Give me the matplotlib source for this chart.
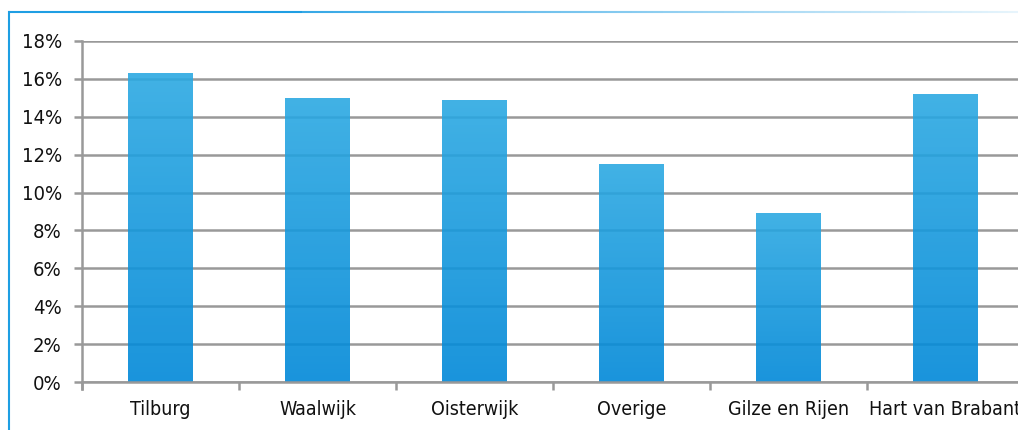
import matplotlib
matplotlib.use("Agg")
import matplotlib.pyplot as plt
import numpy as np
from matplotlib.colors import LinearSegmentedColormap
from matplotlib.collections import LineCollection

# share per municipality (percent)
regions = ["Tilburg", "Waalwijk", "Oisterwijk", "Overige", "Gilze en Rijen", "Hart van Brabant"]
shares = [16.3, 15.0, 14.9, 11.5, 8.9, 15.2]
yticks = [0, 2, 4, 6, 8, 10, 12, 14, 16, 18]

plt.rcParams['font.family'] = ['DejaVu Sans']
plt.rcParams['font.stretch'] = 'condensed'

W, H = 1018, 430
fig = plt.figure(figsize=(W / 100, H / 100), dpi=100)

# axes box in pixels: left 82, right 1024 (runs off the edge), top 41, bottom 382
left, right, top, bottom = 82, 1024, 41, 382
ax = fig.add_axes([left / W, 1 - bottom / H, (right - left) / W, (bottom - top) / H])

x = np.arange(len(regions))

grid_color = '#999999'
for t in yticks:
    ax.axhline(t, color=grid_color, lw=1.8, zorder=1)

# vertical gradient inside each bar
cmap = LinearSegmentedColormap.from_list('bar', ['#0088d8', '#2ca9e2'])
grad = np.linspace(0, 1, 256).reshape(-1, 1)
bars = ax.bar(x, shares, width=0.41, color='none', zorder=2)
for rect in bars:
    x0 = rect.get_x()
    h = rect.get_height()
    im = ax.imshow(grad, cmap=cmap, origin='lower', aspect='auto', alpha=0.9,
                   extent=(x0, x0 + rect.get_width(), 0, h), zorder=2)
    im.set_clip_path(rect)
ax.set_xlim(-0.5, len(regions) - 0.5)
ax.set_ylim(0, 18)

for s in ['top', 'right', 'bottom']:
    ax.spines[s].set_visible(False)
ax.spines['left'].set_color(grid_color)
ax.spines['left'].set_linewidth(1.8)
ax.spines['left'].set_bounds(-0.35, 18)

ax.set_yticks(yticks, [f"{t}%" for t in yticks])
ax.tick_params(axis='y', length=6, width=1.8, color=grid_color, pad=8.5,
               labelsize=14.5, labelcolor='#111111')

# category labels centred, tick marks on category boundaries
ax.set_xticks(x, regions)
ax.tick_params(axis='x', length=0, pad=13, labelsize=14, labelcolor='#111111')
ax.set_xticks(np.arange(len(regions) + 1) - 0.5, minor=True)
ax.tick_params(axis='x', which='minor', length=6, width=1.8, color=grid_color)
ax.axhline(0, color=grid_color, lw=1.8, zorder=3, clip_on=False)

# blue frame: left edge solid, top edge fading out to the right
frame = fig.add_axes([0, 0, 1, 1], zorder=-1)
frame.set_xlim(0, W)
frame.set_ylim(H, 0)
frame.axis('off')
frame.plot([9, 9], [12, H], color='#1e9fe3', lw=1.5)
xs = np.linspace(8, W, 200)
segs = [[(xs[i], 12), (xs[i + 1], 12)] for i in range(len(xs) - 1)]
fade = np.clip((W - xs[:-1]) / (W - 300), 0, 1) * 0.8 + 0.1
fade = np.where(xs[:-1] < 300, 1.0, fade)
cols = [(0.12, 0.62, 0.89, a) for a in fade]
frame.add_collection(LineCollection(segs, colors=cols, linewidths=1.5))

fig.savefig('out.png', dpi=100)
